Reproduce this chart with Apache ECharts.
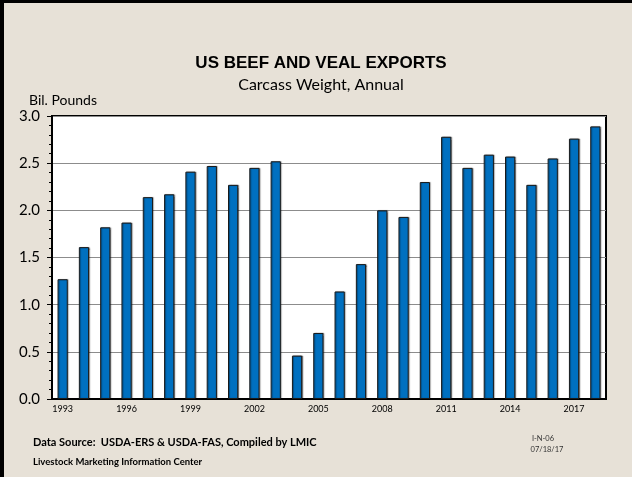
<!DOCTYPE html>
<html>
<head>
<meta charset="utf-8">
<script src="https://cdn.jsdelivr.net/npm/echarts@6/dist/echarts.min.js"></script>
<style>
html,body{margin:0;padding:0;background:#e7e1d7;overflow:hidden;}
#c{width:632px;height:477px;}
</style>
</head>
<body>
<div id="c"></div>
<script>
var years = ['1993','1994','1995','1996','1997','1998','1999','2000','2001','2002','2003','2004','2005','2006','2007','2008','2009','2010','2011','2012','2013','2014','2015','2016','2017','2018'];
var exportsBil = [1.27,1.61,1.82,1.87,2.14,2.17,2.41,2.47,2.27,2.45,2.52,0.46,0.70,1.14,1.43,2.00,1.93,2.30,2.78,2.45,2.59,2.57,2.27,2.55,2.76,2.89];
var yTicks = [0,0.5,1.0,1.5,2.0,2.5,3.0];

var F = 'Lato, "Open Sans", sans-serif';
function txt(t, x, y, font, align, fill) {
  return {type:'text', x:x, y:y, style:{text:t, font:font, fill:fill || '#000', align:align || 'left', verticalAlign:'middle'}};
}

var chart = echarts.init(document.getElementById('c'));
chart.setOption({
  backgroundColor: '#e7e1d7',
  animation: false,
  graphic: [
    {type:'rect', shape:{x:0, y:0, width:632, height:3}, style:{fill:'#000'}},
    {type:'rect', shape:{x:0, y:0, width:4, height:477}, style:{fill:'#000'}},
    txt('US BEEF AND VEAL EXPORTS', 321, 63, 'bold 17px "Liberation Sans", Arial', 'center'),
    txt('Carcass Weight, Annual', 321, 85, '16px ' + F, 'center'),
    txt('Bil. Pounds', 29, 100, '14px ' + F, 'left'),
    txt('Data Source:  USDA-ERS & USDA-FAS, Compiled by LMIC', 33, 442, 'bold 11px ' + F, 'left'),
    txt('Livestock Marketing Information Center', 33, 462, 'bold 9.5px ' + F, 'left'),
    txt('I-N-06', 543, 439, '7.5px ' + F, 'center', '#333'),
    txt('07/18/17', 547, 450, '7.5px ' + F, 'center', '#333')
  ],
  grid: {left:52, right:26, top:116, bottom:78, show:true, backgroundColor:'#ffffff', borderColor:'#000', borderWidth:2},
  xAxis: {
    type:'category', data: years, boundaryGap:true,
    axisLine:{lineStyle:{color:'#000', width:1}},
    axisTick:{interval:0, length:4, lineStyle:{color:'#000'}},
    axisLabel:{interval:2, fontSize:9, color:'#000', fontFamily:F, margin:6}
  },
  yAxis: {
    type:'value', min:0, max:3, interval:0.5,
    axisLine:{show:true, lineStyle:{color:'#000'}},
    axisTick:{show:true, length:5, lineStyle:{color:'#000'}},
    minorTick:{show:true, splitNumber:5, length:3, lineStyle:{color:'#000'}},
    splitLine:{show:true, lineStyle:{color:'#8c8c8c', width:1}},
    axisLabel:{fontSize:15, color:'#000', fontFamily:F, margin:12, formatter:function(v){return v.toFixed(1);}}
  },
  series: [{
    type:'bar', data: exportsBil, barWidth:'48%',
    itemStyle:{color:'#0070c0', borderColor:'#1a1a1a', borderWidth:1, shadowColor:'rgba(0,0,0,0.35)', shadowOffsetX:1, shadowOffsetY:0, shadowBlur:1}
  }]
});
</script>
</body>
</html>
